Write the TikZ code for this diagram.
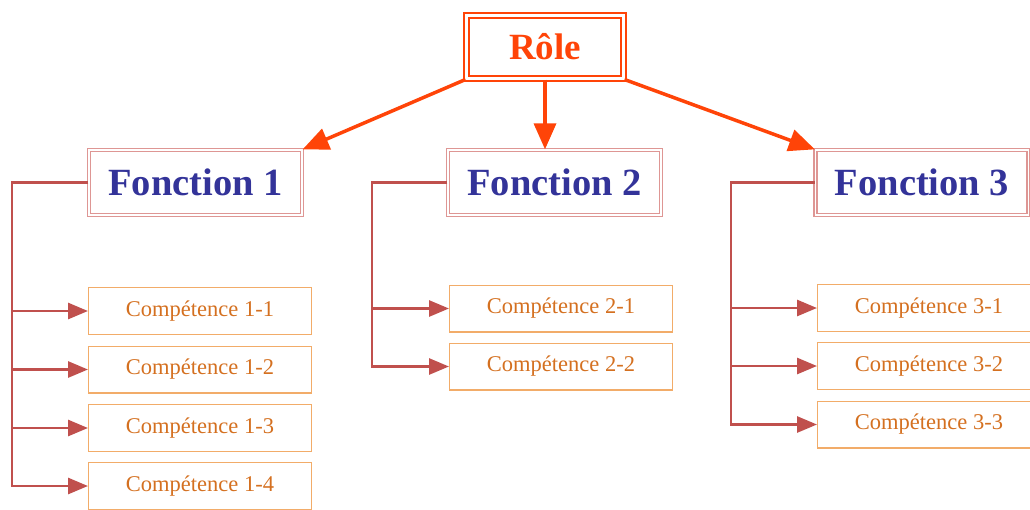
\documentclass[tikz,border=0pt]{standalone}
\usepackage{fontspec}
\setmainfont{Liberation Serif}
\usepackage{xcolor}
\usetikzlibrary{arrows.meta}

\definecolor{roleorange}{RGB}{255,68,8}
\definecolor{fonctionblue}{RGB}{51,51,153}
\definecolor{fonctionedge}{RGB}{222,150,148}
\definecolor{branchred}{RGB}{192,80,77}
\definecolor{competenceedge}{RGB}{242,172,105}
\definecolor{competencetext}{RGB}{212,112,32}

\begin{document}
\begin{tikzpicture}[
  x=1pt, y=-1pt,
  role/.style={draw=roleorange, double, line width=2pt, double distance=3pt,
    minimum width=157pt, minimum height=63pt, text=roleorange,
    font=\fontsize{37}{40}\selectfont\bfseries},
  fonction/.style={draw=fonctionedge, double, line width=1.3pt, double distance=1.6pt,
    minimum width=213pt, minimum height=65pt, text=fonctionblue,
    font=\fontsize{38.5}{42}\selectfont\bfseries},
  competence/.style={draw=competenceedge, line width=1.3pt,
    minimum width=222.7pt, minimum height=46.7pt, text=competencetext,
    font=\fontsize{22.5}{25}\selectfont},
  descend/.style={roleorange, line width=3.5pt, -{Triangle[length=26pt,width=22pt]}},
  branch/.style={branchred, line width=2.8pt, -{Triangle[length=20pt,width=16pt]}}
]
\useasboundingbox (0,0) rectangle (1030,509);

\node[role] (role) at (545,47) {Rôle};

\node[fonction] (f1) at (195.5,182.5) {Fonction 1};
\node[fonction] (f2) at (554.5,182.5) {Fonction 2};
\node[fonction] (f3) at (922,182.5) {Fonction 3};

\draw[descend] (role.south west) -- (f1.north east);
\draw[descend] (role.south) -- (role.south |- f2.north);
\draw[descend] (role.south east) -- (f3.north west);

\node[competence] (c11) at (200,311) {Compétence 1-1};
\node[competence] (c12) at (200,369.5) {Compétence 1-2};
\node[competence] (c13) at (200,428) {Compétence 1-3};
\node[competence] (c14) at (200,486) {Compétence 1-4};

\node[competence] (c21) at (561,308.5) {Compétence 2-1};
\node[competence] (c22) at (561,366.5) {Compétence 2-2};

\node[competence] (c31) at (929,308) {Compétence 3-1};
\node[competence] (c32) at (929,366) {Compétence 3-2};
\node[competence] (c33) at (929,424.5) {Compétence 3-3};

\coordinate (s1) at (12,182.5);
\coordinate (s2) at (372,182.5);
\coordinate (s3) at (731,182.5);

\draw[branch] (f1.west) -- (s1) -- (s1 |- c14.west) -- (c14.west);
\draw[branch] (s1 |- c11.west) -- (c11.west);
\draw[branch] (s1 |- c12.west) -- (c12.west);
\draw[branch] (s1 |- c13.west) -- (c13.west);

\draw[branch] (f2.west) -- (s2) -- (s2 |- c22.west) -- (c22.west);
\draw[branch] (s2 |- c21.west) -- (c21.west);

\draw[branch] (f3.west) -- (s3) -- (s3 |- c33.west) -- (c33.west);
\draw[branch] (s3 |- c31.west) -- (c31.west);
\draw[branch] (s3 |- c32.west) -- (c32.west);
\end{tikzpicture}
\end{document}
